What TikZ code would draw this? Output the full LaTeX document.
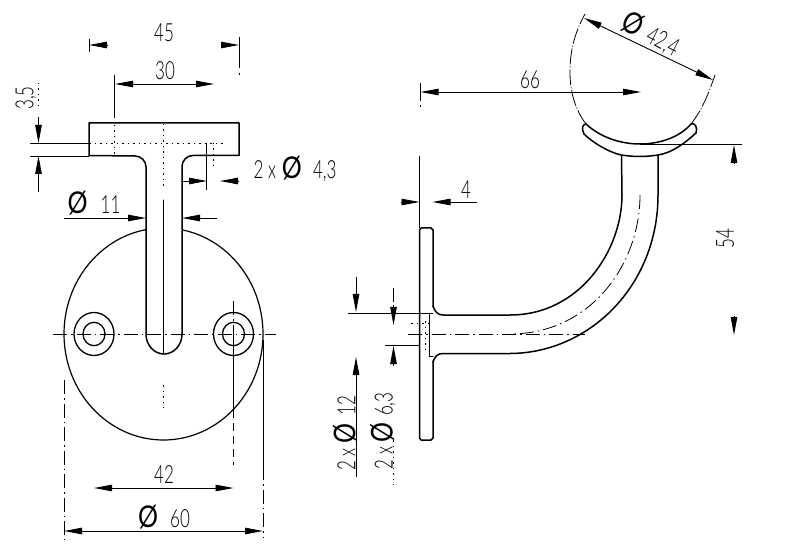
\documentclass[tikz,border=0pt]{standalone}
\usepackage{fontspec}
\usepackage{graphicx}
\newfontfamily\dimfont{Lato Light}
\newfontfamily\diafont{Lato}
\usetikzlibrary{arrows.meta}
\newcommand{\tx}[1]{\scalebox{.68}[1]{\dimfont\fontsize{25}{25}\selectfont #1}}
\newcommand{\dia}{\scalebox{1}[1.2]{\diafont\fontsize{25}{25}\selectfont Ø}}
\tikzset{
  part/.style={line width=1.5pt,line cap=round,line join=round},
  thinpart/.style={line width=1pt,line cap=round},
  dimline/.style={line width=.9pt},
  arr/.style={-{Stealth[length=18pt,width=6.5pt,inset=0pt]}},
  arrb/.style={{Stealth[length=18pt,width=6.5pt,inset=0pt]}-},
  arrs/.style={{Stealth[length=18pt,width=6.5pt,inset=0pt]}-{Stealth[length=18pt,width=6.5pt,inset=0pt]}},
  axis/.style={line width=.8pt,dash pattern=on 14pt off 4pt on 1.5pt off 4pt},
  hidden/.style={line width=.8pt,dash pattern=on 8pt off 5pt},
  dotted line/.style={line width=.8pt,dash pattern=on 1.5pt off 4pt},
  lbl/.style={inner sep=0pt,outer sep=0pt,text=black}
}
\begin{document}
\begin{tikzpicture}[x=1pt,y=1pt,yscale=-1]
\useasboundingbox (0,0) rectangle (803,553);
\fill[white] (0,0) rectangle (803,553);
%%% LEFT VIEW
% head and stem
\draw[part] (146,334) -- (146,167) arc[start angle=0,end angle=-90,radius=11] -- (89,155.5) -- (89,123) -- (239,123) -- (239,155.5) -- (193,155.5) arc[start angle=-90,end angle=-180,radius=11] -- (182,334);
\draw[part] (146,334) arc[start angle=180,end angle=0,x radius=18,y radius=20];
% plate
\begin{scope}
\clip (0,0) rectangle (146,553) (182,0) rectangle (803,553) (146,300) rectangle (182,553);
\draw[line width=1.2pt] (163.5,334) ellipse[x radius=99.5,y radius=106];
\end{scope}
% holes
\draw[line width=1.3pt] (94,334) ellipse[x radius=20,y radius=21.5];
\draw[line width=1.3pt] (94,334) ellipse[x radius=11,y radius=11.7];
\draw[line width=1.3pt] (233.5,334) ellipse[x radius=20,y radius=21.5];
\draw[line width=1.3pt] (233.5,334) ellipse[x radius=11,y radius=11.7];
% axes
\draw[axis] (53,334) -- (276,334);
\draw[thinpart] (163.5,200) -- (163.5,354);
\draw[dotted line] (163.5,124) -- (163.5,186);
\draw[dotted line] (163.5,385) -- (163.5,408);
\draw[axis] (233.5,301) -- (233.5,334);
\draw[dotted line] (114.5,125) -- (114.5,156);
\draw[dotted line] (89,143) -- (225,143);
\draw[dotted line] (213,143) -- (213,168);
% dim 45
\draw[dimline] (89,39) -- (89,52);
\draw[dimline,arrb] (89,45) -- (107,45);
\draw[dimline,arrb] (239,45) -- (221,45);
\draw[dimline] (239,37) -- (239,60);
\draw[hidden] (239,60) -- (239,75);
\node[lbl] (t45) at (164,33) {\tx{45}};
% dim 30
\draw[dimline] (114.5,75) -- (114.5,118);
\draw[dimline,arrs] (115,84) -- (214,84);
\node[lbl] (t30) at (165,71) {\tx{30}};
% dim 3,5
\draw[dotted line] (38.5,83) -- (38.5,108);
\draw[dimline,arr] (38.5,117) -- (38.5,143);
\draw[dimline,arr] (38.5,192) -- (38.5,156);
\draw[dimline] (30,143) -- (89,143);
\draw[dimline] (30,156) -- (89,156);
\node[lbl,rotate=90] (t35) at (26,98) {\tx{3,5}};
% dim 4,3
\draw[dimline] (206,143) -- (206,190);
\draw[dimline,arr] (181,181) -- (207,181);
\draw[dimline,arrb] (220,181) -- (239,181);
\node[lbl] (t43) at (295,169) {\tx{2 x}\hspace{6pt}\dia\hspace{11pt}\tx{4,3}};
% dim 11
\draw[dimline,arr] (64,218) -- (146,218);
\draw[dimline,arrb] (182,218) -- (217,218);
\node[lbl] (t11) at (94,203) {\dia\hspace{13pt}\tx{11}};
% dim 42
\draw[thinpart] (233.5,334) -- (233.5,410);
\draw[hidden] (233.5,410) -- (233.5,465);
\draw[dimline,arrs] (94,488) -- (233.5,488);
\node[lbl] (t42) at (164,475) {\tx{42}};
% dim 60
\draw[axis] (64,380) -- (64,540);
\draw[thinpart] (263,340) -- (263,466);
\draw[axis] (263,466) -- (263,537);
\draw[dimline,arrs] (64,531) -- (263,531);
\node[lbl] (t60) at (164,517) {\dia\hspace{12pt}\tx{60}};
%%% RIGHT VIEW
% plate
\draw[part] (433,307) -- (433,230) -- (431,228) -- (421,228) -- (419.5,230) -- (419.5,438) -- (421,440) -- (431,440) -- (433,438) -- (433,361);
\draw[dimline] (419.5,156) -- (419.5,228);
% arm
\draw[part] (433,306) .. controls (435,312) and (438,315) .. (443,315) -- (510,315) .. controls (580,315) and (622,250) .. (622,195) -- (621.5,156);
\draw[part] (433,362) .. controls (435,356) and (438,353.5) .. (443,353.5) -- (510,353.5) .. controls (590,353) and (658,285) .. (658,195) -- (658,156);
% saddle
\draw[part] (586,124) .. controls (600,137) and (620,144) .. (640,144) .. controls (660,144) and (680,137) .. (691,124) .. controls (695,122) and (698,128) .. (696,133) .. controls (685,143) and (672,153) .. (658,155) .. controls (645,157) and (635,157) .. (621,155) .. controls (608,152) and (592,142) .. (584,134) .. controls (581,128) and (583,124) .. (586,124) -- cycle;
% handrail circle (thin)
\draw[axis,dash pattern=on 16pt off 2pt on 1pt off 2pt] (586,124) .. controls (574,108) and (570,90) .. (570,72) .. controls (570,50) and (575,32) .. (585,14);
\draw[axis,dash pattern=on 16pt off 2pt on 1pt off 2pt] (691,124) .. controls (702,110) and (708,95) .. (715,75);
% axes right
\draw[axis] (408,334) -- (585,334);
\draw[axis] (640,195) .. controls (640,265) and (590,334) .. (510,334);
\draw[dotted line] (425,321) -- (425,350);
\draw[thinpart] (429.5,313) -- (429.5,356) -- (433,356);
\draw[dotted line] (411,323) -- (430,323);
% dim 4
\draw[dimline,arr] (401,202) -- (419.5,202);
\draw[dimline,arrb] (432.5,202) -- (477,202);
\node[lbl] (t4) at (466,190) {\tx{4}};
% dim 66
\draw[dimline] (420.5,83) -- (420.5,100);
\draw[dotted line] (420.5,100) -- (420.5,107);
\draw[dimline,arrs] (420.5,92) -- (641,92);
\node[lbl] (t66) at (530,80) {\tx{66}};
% dim 42,4
\draw[dimline,arrs] (584,18) -- (713,80);
\node[lbl,rotate=-27] (t424) at (651,34) {\dia\hspace{8pt}\tx{42,4}};
% dim 54
\draw[dimline] (640,144) -- (742,144);
\draw[dimline,arr] (734,163) -- (734,145);
\draw[dimline,arr] (734,316) -- (734,335);
\node[lbl,rotate=90] (t54) at (725,239) {\tx{54}};
% dim Ø12
\draw[dimline] (348,313) -- (433,313);
\draw[dimline,arr] (356,277) -- (356,312);
\draw[dimline,arr] (356,477) -- (356,357);
\node[lbl,rotate=90] (t12) at (345,433) {\tx{2 x}\hspace{5pt}\dia\hspace{8pt}\tx{12}};
% dim Ø6,3
\draw[axis] (393.5,288) -- (393.5,305);
\draw[dimline,arr] (393.5,305) -- (393.5,325);
\draw[dimline,arr] (393.5,366) -- (393.5,346);
\draw[dimline] (385,345) -- (419.5,345);
\draw[dotted line] (393.5,440) -- (393.5,485);
\node[lbl,rotate=90] (t63) at (383,431) {\tx{2 x}\hspace{5pt}\dia\hspace{6pt}\tx{6,3}};
\end{tikzpicture}
\end{document}
